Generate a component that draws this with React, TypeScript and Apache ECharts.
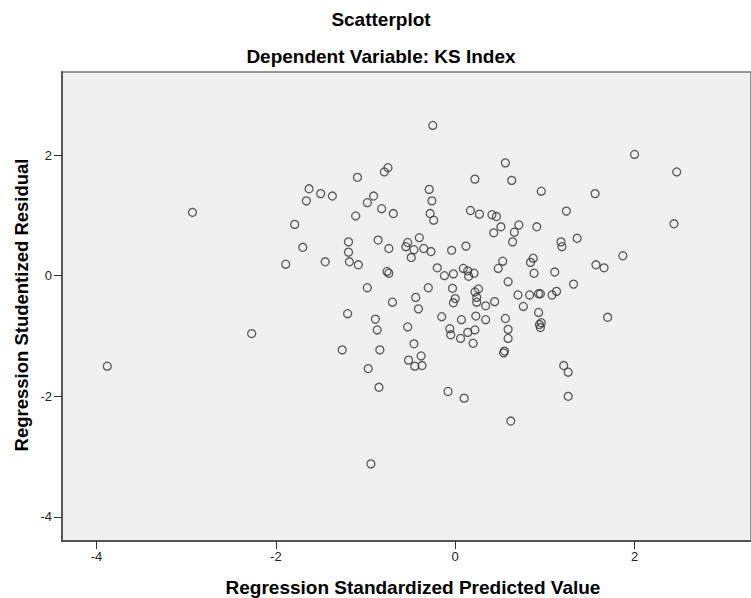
import React, { useEffect, useRef } from "react";
import * as echarts from "echarts";

const chartTitle = "Scatterplot";
const chartSubtitle = "Dependent Variable: KS Index";
const xAxisTitle = "Regression Standardized Predicted Value";
const yAxisTitle = "Regression Studentized Residual";
const xTicks = [-4, -2, 0, 2];
const yTicks = [-4, -2, 0, 2];

const predicted = [
  -3.88, -2.93, -2.27, -1.63, -1.5, -1.37, -1.66, -1.09, -0.79, -0.75, -0.91, -0.98, -0.82, -1.11, -1.79, -1.7,
  -1.19, -1.19, -1.18, -1.08, -1.45, -1.89, -0.86, -0.76, -0.74, -0.98, -1.2, -0.89, -0.87, -1.26, -0.84, -0.97,
  -0.85, -0.94, -0.25, -0.69, -0.29, -0.26, -0.28, -0.24, -0.74, -0.53, -0.55, -0.4, -0.46, -0.35, -0.27, -0.49,
  -0.04, -0.2, -0.12, -0.02, 0.09, 0.56, 0.22, 0.63, 0.96, 0.17, 0.27, 0.41, 0.46, 0.51, 0.43, 0.71, 0.66, 0.64,
  0.91, 0.12, 0.87, 0.84, 0.53, 0.48, 0.14, 0.21, 0.15, 0.88, 0.59, -0.3, -0.03, -0.44, -0.7, 0.0, -0.02, -0.41,
  -0.15, 0.07, -0.53, -0.06, -0.05, 0.06, 0.14, -0.46, -0.38, -0.52, -0.45, -0.37, -0.08, 0.1, 0.26, 0.22, 0.24,
  0.24, 0.34, 0.44, 0.7, 0.83, 0.93, 0.95, 0.76, 0.93, 0.96, 0.95, 0.94, 0.23, 0.34, 0.56, 0.59, 0.59, 0.22, 0.2,
  0.55, 0.54, 0.62, 2.0, 2.47, 1.56, 1.24, 2.44, 1.18, 1.19, 1.36, 1.87, 1.57, 1.66, 1.11, 1.32, 1.13, 1.08, 1.7,
  1.21, 1.26, 1.26,
];

const residual = [
  -1.5, 1.05, -0.96, 1.44, 1.36, 1.32, 1.24, 1.63, 1.72, 1.79, 1.32, 1.21, 1.11, 0.99, 0.85, 0.47,
  0.56, 0.39, 0.23, 0.18, 0.23, 0.19, 0.59, 0.07, 0.04, -0.2, -0.63, -0.72, -0.9, -1.23, -1.23, -1.54,
  -1.85, -3.12, 2.49, 1.03, 1.43, 1.24, 1.03, 0.92, 0.45, 0.55, 0.48, 0.63, 0.43, 0.45, 0.4, 0.3,
  0.42, 0.13, 0.0, 0.03, 0.12, 1.87, 1.6, 1.58, 1.4, 1.08, 1.02, 1.01, 0.98, 0.81, 0.71, 0.84, 0.72, 0.56,
  0.81, 0.49, 0.29, 0.22, 0.24, 0.12, 0.08, 0.04, -0.01, 0.04, -0.1, -0.2, -0.21, -0.36, -0.44, -0.38, -0.45, -0.55,
  -0.68, -0.73, -0.85, -0.88, -0.98, -1.04, -0.94, -1.13, -1.33, -1.4, -1.5, -1.49, -1.92, -2.03, -0.22, -0.27, -0.36,
  -0.44, -0.5, -0.43, -0.32, -0.32, -0.3, -0.3, -0.51, -0.61, -0.78, -0.86, -0.81, -0.67, -0.73, -0.71, -0.89, -1.04, -0.9, -1.12,
  -1.25, -1.28, -2.41, 2.01, 1.72, 1.36, 1.07, 0.86, 0.56, 0.48, 0.62, 0.33, 0.18, 0.13, 0.06, -0.14, -0.26, -0.32, -0.69,
  -1.49, -1.6, -2.0,
];

const FONT = "'Liberation Sans', Arial, sans-serif";

export default function App() {
  const ref = useRef<HTMLDivElement>(null);

  useEffect(() => {
    document.body.style.margin = "0";
    if (!ref.current) return;
    const chart = echarts.init(ref.current, null, { renderer: "svg" });
    const data = predicted.map((x, i) => [x, residual[i]]);

    chart.setOption({
      animation: false,
      backgroundColor: "#ffffff",
      grid: {
        left: 62,
        top: 72,
        width: 692,
        height: 469,
        show: true,
        backgroundColor: "#f0f0f0",
        borderColor: "#777777",
        borderWidth: 1.5,
        containLabel: false,
      },
      xAxis: {
        type: "value",
        min: -4.385,
        max: 3.299,
        splitLine: { show: false },
        axisLine: { show: true, onZero: false, lineStyle: { color: "#555555", width: 2 } },
        axisTick: { show: true, length: 8, customValues: xTicks, lineStyle: { color: "#333333", width: 1 } },
        axisLabel: {
          customValues: xTicks,
          color: "#222222",
          fontSize: 13,
          fontFamily: FONT,
          margin: 9,
        },
      },
      yAxis: {
        type: "value",
        min: -4.398,
        max: 3.376,
        splitLine: { show: false },
        axisLine: { show: true, onZero: false, lineStyle: { color: "#555555", width: 2 } },
        axisTick: { show: true, length: 8, customValues: yTicks, lineStyle: { color: "#333333", width: 1 } },
        axisLabel: {
          customValues: yTicks,
          color: "#222222",
          fontSize: 13,
          fontFamily: FONT,
          margin: 10,
        },
      },
      graphic: [
        {
          type: "text",
          style: {
            text: chartTitle,
            x: 381,
            y: 19,
            align: "center",
            verticalAlign: "middle",
            font: `bold 19px ${FONT}`,
            fill: "#000000",
          },
        },
        {
          type: "text",
          style: {
            text: chartSubtitle,
            x: 381,
            y: 56,
            align: "center",
            verticalAlign: "middle",
            font: `bold 19px ${FONT}`,
            fill: "#000000",
          },
        },
        {
          type: "text",
          style: {
            text: xAxisTitle,
            x: 413,
            y: 587,
            align: "center",
            verticalAlign: "middle",
            font: `bold 19px ${FONT}`,
            fill: "#000000",
          },
        },
        {
          type: "text",
          x: 21,
          y: 305,
          rotation: Math.PI / 2,
          style: {
            text: yAxisTitle,
            x: 0,
            y: 0,
            align: "center",
            verticalAlign: "middle",
            font: `bold 18.5px ${FONT}`,
            fill: "#000000",
          },
        },
      ],
      series: [
        {
          type: "scatter",
          data,
          symbol: "circle",
          symbolSize: 8,
          itemStyle: {
            color: "rgba(0,0,0,0)",
            borderColor: "#333333",
            borderWidth: 1.3,
          },
          emphasis: { disabled: true },
        },
      ],
    });

    return () => {
      chart.dispose();
    };
  }, []);

  return (
    <div
      ref={ref}
      style={{ position: "fixed", left: 0, top: 0, width: 751, height: 598 }}
    />
  );
}
